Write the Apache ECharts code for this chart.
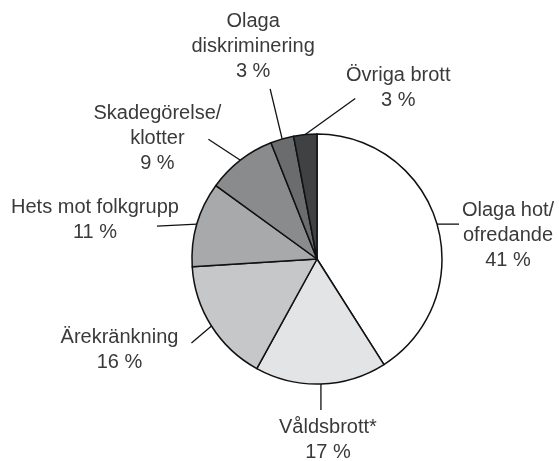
<!DOCTYPE html>
<html>
  <head>
    <meta charset="UTF-8" />
    <title>Brott</title>
    <style>
      html,
      body {
        margin: 0;
        padding: 0;
        background-color: #fff;
      }
      #main {
        width: 559px;
        height: 461px;
      }
    </style>
  </head>
  <body>
    <div id="main"></div>
  </body>
  <script src="https://cdn.jsdelivr.net/npm/echarts@6/dist/echarts.min.js"></script>
  <script>
    var categories = [
      "Olaga hot/\nofredande",
      "Våldsbrott*",
      "Ärekränkning",
      "Hets mot folkgrupp",
      "Skadegörelse/\nklotter",
      "Olaga\ndiskriminering",
      "Övriga brott",
    ];
    var values = [41, 17, 16, 11, 9, 3, 3];

    var colors = ["#ffffff", "#e3e4e6", "#c6c7c9", "#a8a9ab", "#8a8b8d", "#6b6c6e", "#404143"];
    // label line: vector from the slice edge
    var lineVec = [[22, 0], [0, 26], [-20, 17], [-40, 2], [-32, -21], [-12, -50], [50, -36]];
    // label centre: offset from the end of the line
    var labelOff = [[49, 11], [7, 30], [-72, 7], [-62, -6], [-51, -1], [-17, -42], [43, -11]];

    var myChart = echarts.init(document.getElementById("main"));

    var pieData = [];
    for (var i = 0; i < categories.length; i++) {
      pieData.push({
        name: categories[i],
        value: values[i],
        itemStyle: { color: colors[i] },
      });
    }

    var option = {
      animation: false,
      backgroundColor: "#fff",
      series: [
        {
          type: "pie",
          center: [317, 259],
          radius: 125,
          startAngle: 90,
          clockwise: true,
          avoidLabelOverlap: false,
          itemStyle: {
            borderColor: "#111",
            borderWidth: 1.5,
          },
          label: {
            show: true,
            position: "outside",
            color: "#3a3a3a",
            fontFamily: "Liberation Sans, Arial, sans-serif",
            fontSize: 20,
            lineHeight: 25,
            formatter: function (p) {
              return p.name + "\n" + p.value + " %";
            },
          },
          labelLine: {
            show: true,
            lineStyle: { color: "#111", width: 1.3 },
          },
          labelLayout: function (p) {
            var i = p.dataIndex;
            var pts = p.labelLinePoints;
            var x0 = pts[0][0],
              y0 = pts[0][1];
            var x1 = x0 + lineVec[i][0],
              y1 = y0 + lineVec[i][1];
            return {
              x: x1 + labelOff[i][0],
              y: y1 + labelOff[i][1],
              align: "center",
              verticalAlign: "middle",
              labelLinePoints: [
                [x0, y0],
                [x1, y1],
              ],
            };
          },
          data: pieData,
        },
      ],
    };
    myChart.setOption(option);
  </script>
</html>
